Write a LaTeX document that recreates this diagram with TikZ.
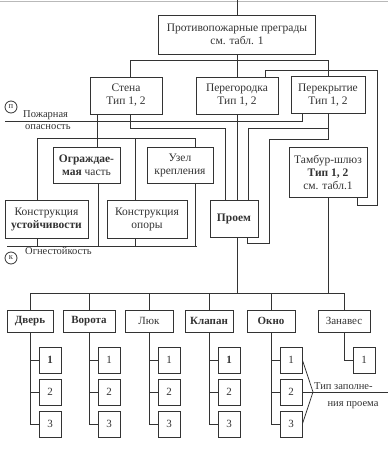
\documentclass[tikz,border=0pt]{standalone}
\usepackage{fontspec}
\setmainfont{Liberation Serif}
\definecolor{inkc}{HTML}{333333}
\begin{document}
\begin{tikzpicture}[x=1pt,y=-1pt,
  ln/.style={draw=inkc, line width=0.75pt},
  box/.style={draw=inkc, line width=0.8pt, inner sep=1pt, align=center, text=inkc,
    font=\fontsize{11.5}{13}\selectfont},
  sbox/.style={box, minimum width=22, minimum height=26, font=\fontsize{11}{13}\selectfont},
  bbox/.style={box, minimum height=22, font=\fontsize{11}{13}\selectfont},
  lbl/.style={inner sep=0pt, text=inkc, font=\fontsize{10.5}{12}\selectfont},
  circ/.style={circle, draw=inkc, line width=0.8pt, inner sep=0pt, minimum size=12,
    text=inkc, font=\fontsize{8.5}{9}\selectfont}]
\useasboundingbox (0,0) rectangle (388,453);
\fill[white] (0,0) rectangle (388,453);
\draw[gray!55, line width=1.2pt] (0,1.5) -- (388,1.5);

% upper boxes
\node[box, minimum width=157, minimum height=39] (top) at (237,34.5) {Противопожарные преграды\\см. табл. 1};
\node[box, minimum width=72, minimum height=37] (stena) at (126,95.5) {Стена\\Тип 1, 2};
\node[box, minimum width=82, minimum height=37] (peregor) at (237,95.5) {Перегородка\\Тип 1, 2};
\node[box, minimum width=74, minimum height=37] (perekr) at (328,95) {Перекрытие\\Тип 1, 2};
\node[box, minimum width=67, minimum height=36] (ograzh) at (86.5,165) {\textbf{Ограждае-}\\\textbf{мая} часть};
\node[box, minimum width=66, minimum height=36] (uzel) at (180,165) {Узел\\крепления};
\node[box, minimum width=78, minimum height=50] (tambur) at (328,172) {Тамбур-шлюз\\\textbf{Тип 1, 2}\\см. табл.1};
\node[box, minimum width=83, minimum height=38] (ku) at (46.5,219) {Конструкция\\\textbf{устойчивости}};
\node[box, minimum width=80, minimum height=38] (ko) at (147,219) {Конструкция\\опоры};
\node[box, minimum width=48, minimum height=37] (proem) at (234,218.5) {\textbf{Проем}};

% side labels
\node[circ] (cp) at (11,107) {п};
\node[lbl, anchor=base west] (po1) at (23,117) {Пожарная};
\node[lbl, anchor=base west] (po2) at (25,129) {опасность};
\node[circ] (ck) at (11,258) {к};
\node[lbl, anchor=base west] (og) at (25,254) {Огнестойкость};

% upper connectors
\draw[ln] (237,0) -- (top.north);
\draw[ln] (top.south) -- (peregor.north);
\draw[ln] (130,0 |- stena.north) -- (130,60) -- (328,60) -- (perekr.north);
\draw[ln] (265,0 |- peregor.north) -- (265,70) -- (377,70) -- (377,205) -- (357,205) -- (357,0 |- tambur.south);
\draw[ln] (5,121) -- (302,121) -- (302,0 |- perekr.south);
\draw[ln] (97,0 |- stena.south) -- (97,0 |- ograzh.north);
\draw[ln] (130,0 |- stena.south) -- (130,128) -- (225,128) -- (225,0 |- proem.north);
\draw[ln] (peregor.south) -- (237,0 |- proem.north);
\draw[ln] (perekr.south) -- (328,139) -- (269,139) -- (269,243) -- (247,243) -- (247,0 |- proem.south);
\draw[ln] (328,128) -- (248,128) -- (248,0 |- proem.north);
\draw[ln] (37,0 |- ku.north) -- (37,138) -- (195,138) -- (195,0 |- uzel.north);
\draw[ln] (135,138) -- (135,0 |- ko.north);
\draw[ln] (7,246) -- (197,246);
\draw[ln] (37,0 |- ku.south) -- (37,246);
\draw[ln] (98,0 |- ograzh.south) -- (98,246);
\draw[ln] (135,0 |- ko.south) -- (135,246);
\draw[ln] (195,0 |- uzel.south) -- (195,246);

% bottom row
\coordinate (bus) at (0,293);
\node[bbox, minimum width=46] (dver) at (30,321) {\textbf{Дверь}};
\node[bbox, minimum width=52] (vorota) at (89,321) {\textbf{Ворота}};
\node[bbox, minimum width=48] (luk) at (149,321) {Люк};
\node[bbox, minimum width=48] (klapan) at (209,321) {\textbf{Клапан}};
\node[bbox, minimum width=48] (okno) at (271,321) {\textbf{Окно}};
\node[bbox, minimum width=52] (zanaves) at (344,321) {Занавес};

\draw[ln] (237,0 |- proem.south) -- (237,0 |- bus);
\draw[ln] (tambur.south) -- (tambur.south |- bus);
\draw[ln] (dver.north |- bus) -- (zanaves.north |- bus);
\foreach \n in {dver,vorota,luk,klapan,okno,zanaves}
  \draw[ln] (\n.north |- bus) -- (\n.north);

% small boxes
\node[sbox] (d1) at (50,360) {\textbf{1}};
\node[sbox] (d2) at (50,392) {2};
\node[sbox] (d3) at (50,424) {3};
\node[sbox] (v1) at (109,360) {1};
\node[sbox] (v2) at (109,392) {2};
\node[sbox] (v3) at (109,424) {3};
\node[sbox] (l1) at (169,360) {1};
\node[sbox] (l2) at (169,392) {2};
\node[sbox] (l3) at (169,424) {3};
\node[sbox] (k1) at (229,360) {\textbf{1}};
\node[sbox] (k2) at (229,392) {2};
\node[sbox] (k3) at (229,424) {3};
\node[sbox] (o1) at (291,360) {1};
\node[sbox] (o2) at (291,392) {2};
\node[sbox] (o3) at (291,424) {3};
\node[sbox] (z1) at (364,360) {1};

\foreach \p/\c in {dver/d,vorota/v,luk/l,klapan/k,okno/o} {
  \draw[ln] (\p.south) -- (\p.south |- \c3.west) -- (\c3.west);
  \draw[ln] (\p.south |- \c1.west) -- (\c1.west);
  \draw[ln] (\p.south |- \c2.west) -- (\c2.west);
}
\draw[ln] (zanaves.south) -- (zanaves.south |- z1.west) -- (z1.west);

% type-of-filling label
\coordinate (tzj) at (313,392);
\coordinate (tzend) at (388,392);
\node[lbl, anchor=base west] (tz1) at (314,389) {Тип заполне-};
\node[lbl, anchor=base] (tz2) at (353,406) {ния проема};
\draw[ln] (o1.east) -- (tzj);
\draw[ln] (o3.east) -- (tzj);
\draw[ln] (o2.east) -- (tzend);
\end{tikzpicture}
\end{document}
